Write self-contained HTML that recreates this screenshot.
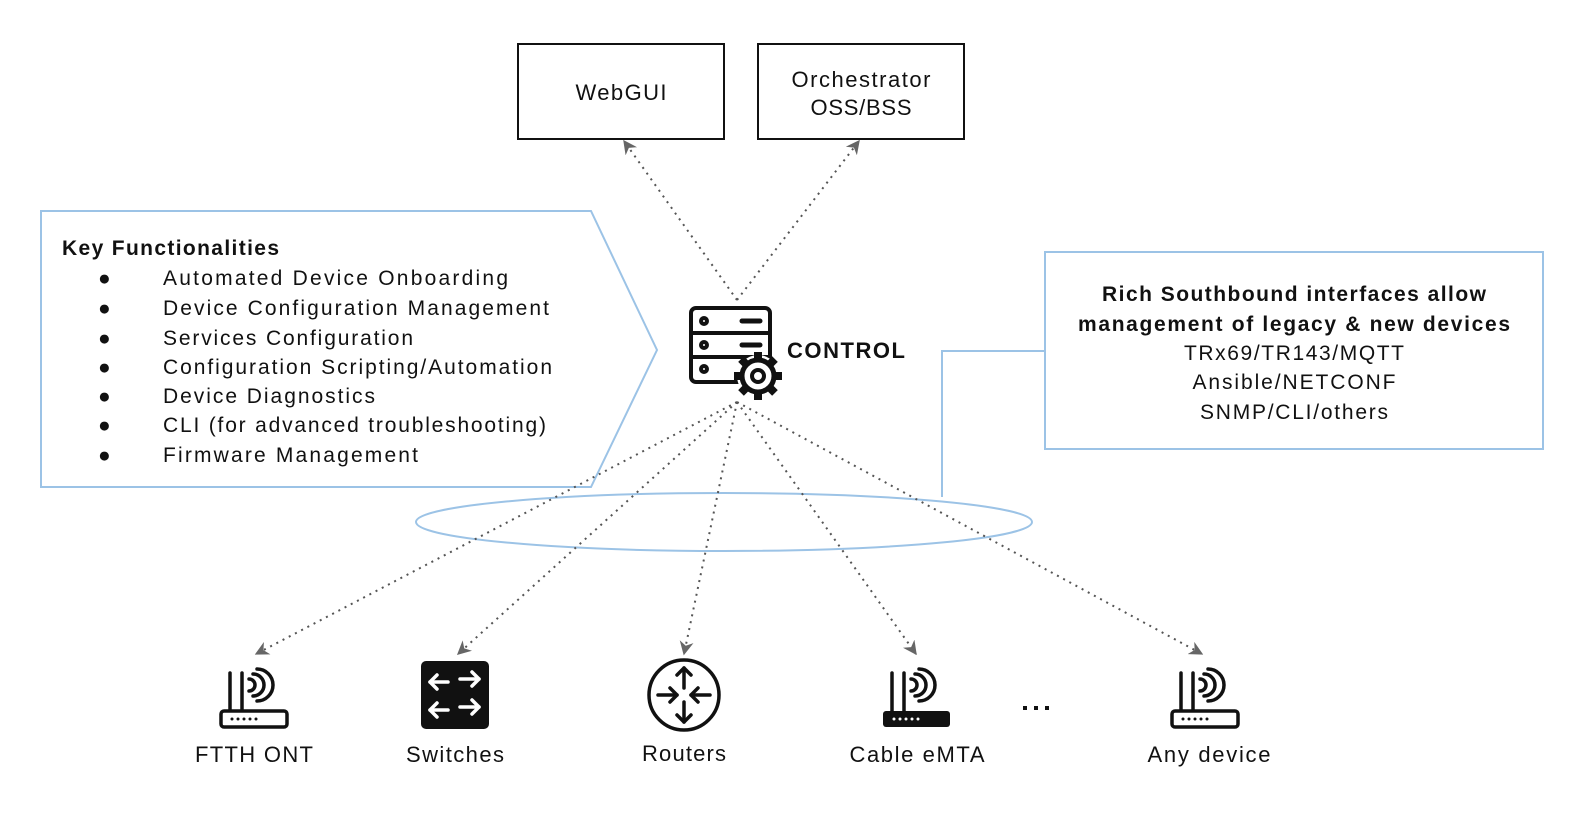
<!DOCTYPE html>
<html><head><meta charset="utf-8"><style>
html,body{margin:0;padding:0;background:#fff;}
svg{display:block;}
text{font-family:"Liberation Sans",sans-serif;fill:#111;}
</style></head><body>
<svg width="1589" height="827" viewBox="0 0 1589 827" xmlns="http://www.w3.org/2000/svg">
<defs>
<marker id="ah" viewBox="0 0 10 10" refX="9" refY="5" markerWidth="7" markerHeight="7" orient="auto-start-reverse">
<path d="M0,0 L10,5 L0,10 L3,5 z" fill="#666"/>
</marker>
<g id="wifi" fill="none" stroke="#111" stroke-width="3.5" stroke-linecap="round">
<line x1="9" y1="2" x2="9" y2="40"/>
<line x1="21" y1="2" x2="21" y2="40"/>
<path d="M28,8 a6,6 0 0 1 0,12"/>
<path d="M32,3 a11,11 0 0 1 0,22"/>
<path d="M36,-2 a16,16 0 0 1 0,32"/>
</g>
</defs>
<rect x="518" y="44" width="206" height="95" fill="#fff" stroke="#111" stroke-width="2"/>
<text x="621" y="100" font-size="22" text-anchor="middle" textLength="91">WebGUI</text>
<rect x="758" y="44" width="206" height="95" fill="#fff" stroke="#111" stroke-width="2"/>
<text x="861" y="87" font-size="22" text-anchor="middle" textLength="139">Orchestrator</text>
<text x="861" y="115" font-size="22" text-anchor="middle" textLength="101">OSS/BSS</text>
<path d="M41,211 L591,211 L657,350 L591,487 L41,487 Z" fill="#fff" stroke="#9cc3e6" stroke-width="2"/>
<text x="62" y="255" font-size="21" font-weight="bold" textLength="217">Key Functionalities</text>
<g font-size="21">
<text x="98" y="285">●</text><text x="163" y="285" textLength="345">Automated Device Onboarding</text>
<text x="98" y="315">●</text><text x="163" y="315" textLength="386">Device Configuration Management</text>
<text x="98" y="345">●</text><text x="163" y="345" textLength="250">Services Configuration</text>
<text x="98" y="374">●</text><text x="163" y="374" textLength="389">Configuration Scripting/Automation</text>
<text x="98" y="403">●</text><text x="163" y="403" textLength="212">Device Diagnostics</text>
<text x="98" y="432">●</text><text x="163" y="432" textLength="383">CLI (for advanced troubleshooting)</text>
<text x="98" y="462">●</text><text x="163" y="462" textLength="255">Firmware Management</text>
</g>
<rect x="1045" y="252" width="498" height="197" fill="#fff" stroke="#9cc3e6" stroke-width="2"/>
<polyline points="1045,351 942,351 942,497" fill="none" stroke="#9cc3e6" stroke-width="2"/>
<g font-size="21" text-anchor="middle">
<text x="1294" y="301" font-weight="bold" textLength="384">Rich Southbound interfaces allow</text>
<text x="1294" y="331" font-weight="bold" textLength="432">management of legacy &amp; new devices</text>
<text x="1294" y="360" textLength="220">TRx69/TR143/MQTT</text>
<text x="1294" y="389" textLength="203">Ansible/NETCONF</text>
<text x="1294" y="419" textLength="188">SNMP/CLI/others</text>
</g>
<ellipse cx="724" cy="522" rx="308" ry="29" fill="none" stroke="#9cc3e6" stroke-width="2"/>
<g stroke="#555" stroke-width="2" stroke-dasharray="2,5" fill="none" marker-end="url(#ah)">
<line x1="737" y1="300" x2="624" y2="141"/>
<line x1="737" y1="300" x2="859" y2="141"/>
<line x1="737" y1="402" x2="256" y2="654"/>
<line x1="737" y1="402" x2="458" y2="654"/>
<line x1="737" y1="402" x2="684" y2="654"/>
<line x1="737" y1="402" x2="916" y2="654"/>
<line x1="737" y1="402" x2="1202" y2="654"/>
</g>
<g fill="none" stroke="#111" stroke-width="4">
<rect x="691" y="308" width="79" height="74" rx="5" fill="#fff"/>
<line x1="691" y1="333" x2="770" y2="333"/>
<line x1="691" y1="357" x2="770" y2="357"/>
<circle cx="704" cy="321" r="3"/><circle cx="704" cy="345" r="3"/><circle cx="704" cy="369" r="3"/>
<line x1="742" y1="321" x2="760" y2="321" stroke-linecap="round" stroke-width="5"/>
<line x1="742" y1="345" x2="760" y2="345" stroke-linecap="round" stroke-width="5"/>
</g>
<g transform="translate(758,376)">
<circle r="21" fill="#fff"/>
<circle r="16" fill="none" stroke="#111" stroke-width="5"/>
<g fill="#111">
<rect x="-4" y="-24" width="8" height="9"/><rect x="-4" y="15" width="8" height="9"/>
<rect x="-24" y="-4" width="9" height="8"/><rect x="15" y="-4" width="9" height="8"/>
<rect x="-4" y="-24" width="8" height="9" transform="rotate(45)"/><rect x="-4" y="15" width="8" height="9" transform="rotate(45)"/>
<rect x="-24" y="-4" width="9" height="8" transform="rotate(45)"/><rect x="15" y="-4" width="9" height="8" transform="rotate(45)"/>
</g>
<circle r="11" fill="#fff"/>
<circle r="6" fill="none" stroke="#111" stroke-width="4"/>
</g>
<text x="787" y="358" font-size="22" font-weight="bold" textLength="118">CONTROL</text>
<g transform="translate(221,671)">
<use href="#wifi"/>
<rect x="0" y="40" width="66" height="16" rx="3" fill="#fff" stroke="#111" stroke-width="3.5"/>
<g fill="#111"><circle cx="11" cy="48" r="1.5"/><circle cx="17" cy="48" r="1.5"/><circle cx="23" cy="48" r="1.5"/><circle cx="29" cy="48" r="1.5"/><circle cx="35" cy="48" r="1.5"/></g>
</g>
<text x="254" y="762" font-size="22" text-anchor="middle" textLength="118">FTTH ONT</text>
<rect x="421" y="661" width="68" height="68" rx="5" fill="#111"/>
<g stroke="#fff" stroke-width="3.5" fill="none" stroke-linecap="round" stroke-linejoin="round">
<line x1="430" y1="682" x2="448" y2="682"/><polyline points="437,675 430,682 437,689"/>
<line x1="460" y1="679" x2="479" y2="679"/><polyline points="472,672 479,679 472,686"/>
<line x1="430" y1="710" x2="448" y2="710"/><polyline points="437,703 430,710 437,717"/>
<line x1="460" y1="707" x2="479" y2="707"/><polyline points="472,700 479,707 472,714"/>
</g>
<text x="455" y="762" font-size="22" text-anchor="middle" textLength="98">Switches</text>
<circle cx="684" cy="695" r="35" fill="#fff" stroke="#111" stroke-width="3.5"/>
<g stroke="#111" stroke-width="3.5" fill="none" stroke-linecap="round" stroke-linejoin="round">
<line x1="684" y1="668" x2="684" y2="688"/><polyline points="677,675 684,668 691,675"/>
<line x1="684" y1="702" x2="684" y2="722"/><polyline points="677,715 684,722 691,715"/>
<line x1="658" y1="695" x2="677" y2="695"/><polyline points="670,688 677,695 670,702"/>
<line x1="691" y1="695" x2="710" y2="695"/><polyline points="698,688 691,695 698,702"/>
</g>
<text x="684" y="761" font-size="22" text-anchor="middle" textLength="84">Routers</text>
<g transform="translate(883,671)">
<use href="#wifi"/>
<rect x="0" y="40" width="67" height="16" rx="3" fill="#111"/>
<g fill="#fff"><circle cx="11" cy="48" r="1.5"/><circle cx="17" cy="48" r="1.5"/><circle cx="23" cy="48" r="1.5"/><circle cx="29" cy="48" r="1.5"/><circle cx="35" cy="48" r="1.5"/></g>
</g>
<text x="917" y="762" font-size="22" text-anchor="middle" textLength="135">Cable eMTA</text>
<g fill="#111"><rect x="1023" y="706" width="4" height="4"/><rect x="1034" y="706" width="4" height="4"/><rect x="1045" y="706" width="4" height="4"/></g>
<g transform="translate(1172,671)">
<use href="#wifi"/>
<rect x="0" y="40" width="66" height="16" rx="3" fill="#fff" stroke="#111" stroke-width="3.5"/>
<g fill="#111"><circle cx="11" cy="48" r="1.5"/><circle cx="17" cy="48" r="1.5"/><circle cx="23" cy="48" r="1.5"/><circle cx="29" cy="48" r="1.5"/><circle cx="35" cy="48" r="1.5"/></g>
</g>
<text x="1209" y="762" font-size="22" text-anchor="middle" textLength="123">Any device</text>
</svg>
</body></html>
